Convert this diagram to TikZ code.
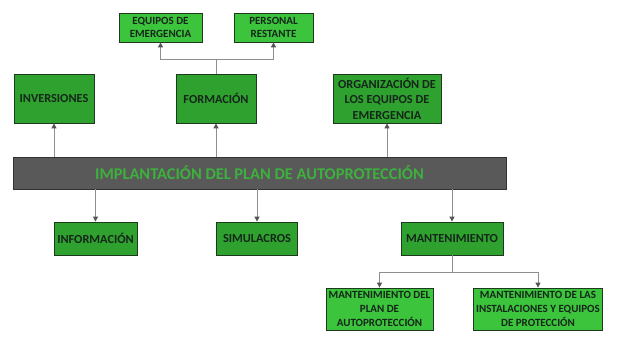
\documentclass[tikz,border=0pt]{standalone}
\usepackage{fontspec}
\setmainfont{Carlito}
\usetikzlibrary{arrows.meta}
\definecolor{brightg}{HTML}{3CC43C}
\definecolor{midg}{HTML}{2FA12F}
\definecolor{edgeg}{HTML}{1E3A1E}
\definecolor{txtc}{HTML}{15261A}
\definecolor{barc}{HTML}{595959}
\definecolor{bartxt}{HTML}{3DB13D}
\definecolor{linec}{HTML}{8E8E8E}
\definecolor{tipc}{HTML}{555555}
\tikzset{
  box/.style={draw=edgeg, line width=0.8pt, inner sep=0pt, align=center, text=txtc},
  lowbox/.style={box, fill=brightg, font=\bfseries\fontsize{11}{13.6}\selectfont},
  midbox/.style={box, fill=midg, font=\bfseries\fontsize{12.3}{15.5}\selectfont},
  conn/.style={draw=linec, line width=1pt, -{Triangle[width=5pt,length=5pt,color=tipc]}}
}
\begin{document}
\begin{tikzpicture}[x=1pt,y=-1pt]
\useasboundingbox (0,0) rectangle (620,345);
% top small boxes
\node[lowbox, minimum width=83pt, minimum height=29pt] (eq) at (160.5,27.5) {EQUIPOS DE\\EMERGENCIA};
\node[lowbox, minimum width=79pt, minimum height=29pt] (pers) at (273.5,27.5) {PERSONAL\\RESTANTE};
% upper level
\node[midbox, minimum width=80pt, minimum height=49pt] (inv) at (54,98.5) {INVERSIONES};
\node[midbox, minimum width=80pt, minimum height=49pt] (form) at (216,98.5) {FORMACIÓN};
\node[midbox, minimum width=108pt, minimum height=49pt] (org) at (387,98.5) {ORGANIZACIÓN DE\\LOS EQUIPOS DE\\EMERGENCIA};
% main bar
\node[draw=black!80, line width=0.8pt, fill=barc, minimum width=493pt, minimum height=32pt, inner sep=0pt, text=bartxt, font=\bfseries\fontsize{16.4}{18}\selectfont] (bar) at (259.5,173) {IMPLANTACIÓN DEL PLAN DE AUTOPROTECCIÓN};
% lower level
\node[midbox, minimum width=83pt, minimum height=33pt] (info) at (95.5,238.5) {INFORMACIÓN};
\node[midbox, minimum width=81pt, minimum height=33pt] (sim) at (257,238.5) {SIMULACROS};
\node[midbox, minimum width=102pt, minimum height=33pt] (mant) at (452,238.5) {MANTENIMIENTO};
% bottom boxes
\node[lowbox, minimum width=107pt, minimum height=42pt] (mplan) at (379.5,309) {MANTENIMIENTO DEL\\PLAN DE\\AUTOPROTECCIÓN};
\node[lowbox, minimum width=129pt, minimum height=42pt] (minst) at (538,309) {MANTENIMIENTO DE LAS\\INSTALACIONES Y EQUIPOS\\DE PROTECCIÓN};
% junctions
\coordinate (fj) at (216,59);
\coordinate (mj) at (452,272);
% connectors
\draw[conn] (bar.north -| inv.south) -- (inv.south);
\draw[conn] (bar.north -| form.south) -- (form.south);
\draw[conn] (bar.north -| org.south) -- (org.south);
\draw[conn] (bar.south -| info.north) -- (info.north);
\draw[conn] (bar.south -| sim.north) -- (sim.north);
\draw[conn] (bar.south -| mant.north) -- (mant.north);
\draw[conn] (form.north) -- (fj) -| (eq.south);
\draw[conn] (form.north) -- (fj) -| (pers.south);
\draw[conn] (mant.south) -- (mj) -| (mplan.north);
\draw[conn] (mant.south) -- (mj) -| (minst.north);
\end{tikzpicture}
\end{document}
